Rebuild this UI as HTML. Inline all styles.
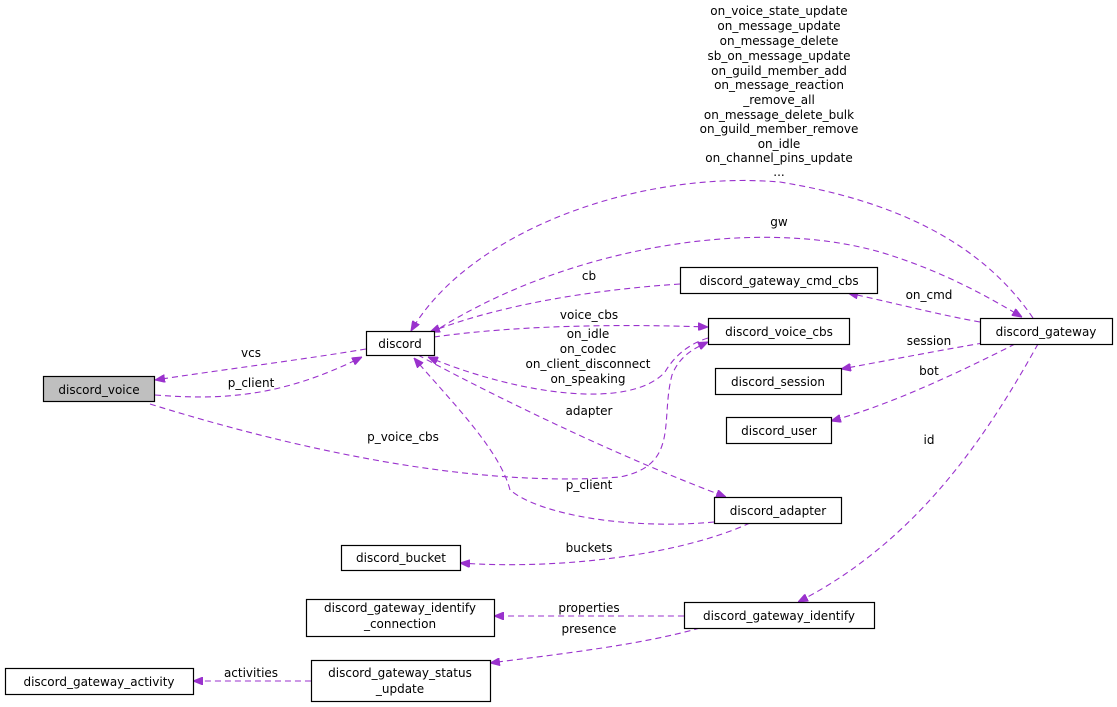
<!DOCTYPE html>
<html><head><meta charset="utf-8"><style>
html,body{margin:0;padding:0;background:#fff;}
svg{display:block;}
text{font-family:"DejaVu Sans","Liberation Sans",sans-serif;font-size:12px;fill:#000;}
.b{fill:#fff;stroke:#000;stroke-width:1.2;}
.e{fill:none;stroke:#9a32cd;stroke-width:1.1;stroke-dasharray:6,4;}
</style></head><body>
<svg width="1117" height="707" viewBox="0 0 1117 707" xmlns="http://www.w3.org/2000/svg">
<defs><marker id="a" viewBox="0 0 10 8" refX="10" refY="4" markerWidth="10" markerHeight="8" markerUnits="userSpaceOnUse" orient="auto"><path d="M0,0L10,4L0,8z" fill="#9a32cd" stroke="#9a32cd"/></marker></defs>

<!-- edges -->
<path class="e" marker-end="url(#a)" d="M366,349 C300,360 220,370 155,380"/>
<path class="e" marker-end="url(#a)" d="M155,395 C220,400 280,398 362,357"/>
<path class="e" marker-end="url(#a)" d="M150,404 C250,435 450,490 620,477 C680,465 660,420 672,375 C680,355 695,348 708,342"/>
<path class="e" marker-end="url(#a)" d="M434,337 C520,325 620,324 708,327"/>
<path class="e" marker-end="url(#a)" d="M708,338 C685,345 672,360 665,372 C630,410 520,395 428,357"/>
<path class="e" marker-end="url(#a)" d="M680,284 C590,290 500,305 430,332"/>
<path class="e" marker-end="url(#a)" d="M418,355 C520,410 640,465 726,497"/>
<path class="e" marker-end="url(#a)" d="M714,522 C630,530 540,515 510,490 C500,450 450,400 414,358"/>
<path class="e" marker-end="url(#a)" d="M750,523 C680,555 560,570 460,563"/>
<path class="e" marker-end="url(#a)" d="M432,333 C560,250 750,215 880,252 C940,270 985,295 1022,317"/>
<path class="e" marker-end="url(#a)" d="M1033,318 C980,240 890,200 780,182 C640,170 470,230 411,331"/>
<path class="e" marker-end="url(#a)" d="M980,322 C940,315 890,302 848,293"/>
<path class="e" marker-end="url(#a)" d="M983,343 C930,352 880,362 841,369"/>
<path class="e" marker-end="url(#a)" d="M1015,344 C960,372 890,405 831,421"/>
<path class="e" marker-end="url(#a)" d="M1038,344 C990,430 920,540 798,602"/>
<path class="e" marker-end="url(#a)" d="M684,616 C620,616 560,616 494,616"/>
<path class="e" marker-end="url(#a)" d="M700,628 C640,645 560,654 490,663"/>
<path class="e" marker-end="url(#a)" d="M311,681 C270,681 230,681 193,681"/>

<!-- nodes -->
<rect x="43.5" y="376.5" width="111" height="25" fill="#bfbfbf" stroke="#000" stroke-width="1.2"/>
<text x="99" y="394" text-anchor="middle">discord_voice</text>
<rect class="b" x="366.5" y="331.5" width="68" height="24"/>
<text x="400" y="348" text-anchor="middle">discord</text>
<rect class="b" x="680.5" y="267.5" width="197" height="26"/>
<text x="779" y="285" text-anchor="middle">discord_gateway_cmd_cbs</text>
<rect class="b" x="708.5" y="318.5" width="141" height="26"/>
<text x="779" y="336" text-anchor="middle">discord_voice_cbs</text>
<rect class="b" x="980.5" y="318.5" width="132" height="26"/>
<text x="1046" y="336" text-anchor="middle">discord_gateway</text>
<rect class="b" x="715.5" y="368.5" width="126" height="26"/>
<text x="778" y="386" text-anchor="middle">discord_session</text>
<rect class="b" x="726.5" y="417.5" width="105" height="26"/>
<text x="779" y="435" text-anchor="middle">discord_user</text>
<rect class="b" x="714.5" y="497.5" width="127" height="26"/>
<text x="778" y="515" text-anchor="middle">discord_adapter</text>
<rect class="b" x="341.5" y="545.5" width="119" height="25"/>
<text x="401" y="562" text-anchor="middle">discord_bucket</text>
<rect class="b" x="306.5" y="599.5" width="188" height="37"/>
<text x="400" y="612" text-anchor="middle">discord_gateway_identify</text>
<text x="400" y="628" text-anchor="middle">_connection</text>
<rect class="b" x="684.5" y="602.5" width="190" height="26"/>
<text x="779" y="620" text-anchor="middle">discord_gateway_identify</text>
<rect class="b" x="311.5" y="660.5" width="179" height="41"/>
<text x="400" y="677" text-anchor="middle">discord_gateway_status</text>
<text x="400" y="693" text-anchor="middle">_update</text>
<rect class="b" x="5.5" y="668.5" width="188" height="26"/>
<text x="99" y="686" text-anchor="middle">discord_gateway_activity</text>

<!-- labels -->
<g text-anchor="middle">
<text x="251" y="357">vcs</text>
<text x="251" y="387">p_client</text>
<text x="403" y="441">p_voice_cbs</text>
<text x="589" y="319">voice_cbs</text>
<text x="588" y="338">on_idle</text>
<text x="588" y="353">on_codec</text>
<text x="588" y="368">on_client_disconnect</text>
<text x="588" y="383">on_speaking</text>
<text x="589" y="280">cb</text>
<text x="589" y="415">adapter</text>
<text x="589" y="489">p_client</text>
<text x="589" y="552">buckets</text>
<text x="779" y="226">gw</text>
<text x="779" y="15">on_voice_state_update</text>
<text x="779" y="30">on_message_update</text>
<text x="779" y="45">on_message_delete</text>
<text x="779" y="60">sb_on_message_update</text>
<text x="779" y="75">on_guild_member_add</text>
<text x="779" y="89">on_message_reaction</text>
<text x="779" y="104">_remove_all</text>
<text x="779" y="119">on_message_delete_bulk</text>
<text x="779" y="133">on_guild_member_remove</text>
<text x="779" y="148">on_idle</text>
<text x="779" y="162">on_channel_pins_update</text>
<text x="779" y="176">...</text>
<text x="929" y="299">on_cmd</text>
<text x="929" y="345">session</text>
<text x="929" y="375">bot</text>
<text x="929" y="444">id</text>
<text x="589" y="612">properties</text>
<text x="589" y="633">presence</text>
<text x="251" y="677">activities</text>
</g>
</svg>
</body></html>
